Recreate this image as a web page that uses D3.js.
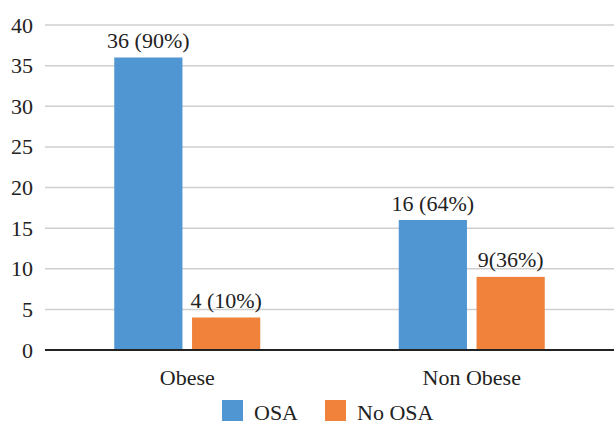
<!DOCTYPE html>
<html><head><meta charset="utf-8">
<script src="https://cdn.jsdelivr.net/npm/d3@7"></script>
<style>
body{margin:0;background:#fff;}
svg{display:block;}
</style>
</head><body>
<svg id="c" width="614" height="424"></svg>
<script>
const categories = ["Obese", "Non Obese"];
const seriesNames = ["OSA", "No OSA"];
const osaValues = [36, 16];
const noOsaValues = [4, 9];
const osaLabels = ["36 (90%)", "16 (64%)"];
const noOsaLabels = ["4 (10%)", "9(36%)"];
const yTicks = [0, 5, 10, 15, 20, 25, 30, 35, 40];
const colors = ["#5096D2", "#F0823C"];

const FONT = "'Liberation Serif', 'Times New Roman', serif";
const svg = d3.select("#c");
const m = {left: 45, right: 614, top: 25, bottom: 350};
const x = d3.scaleBand().domain(categories).range([m.left, m.right]).paddingInner(0).paddingOuter(0);
const xs = d3.scaleBand().domain(seriesNames).range([0, 146]).paddingInner(18/146);
const y = d3.scaleLinear().domain([0, 40]).range([m.bottom, m.top]);

function txt(sel) {
  return sel.attr("font-size", 22).attr("fill", "#222")
    .attr("font-family", FONT)
    .style("font-family", FONT, "important");
}

// gridlines
svg.append("g").selectAll("line").data(yTicks.filter(d => d > 0)).join("line")
  .attr("x1", m.left).attr("x2", m.right)
  .attr("y1", d => y(d)).attr("y2", d => y(d))
  .attr("stroke", "#cfcfcf").attr("stroke-width", 1.5);

// y tick labels
txt(svg.append("g").selectAll("text").data(yTicks).join("text")
  .attr("x", 33).attr("y", d => y(d) + 7.5)
  .attr("text-anchor", "end"))
  .text(d => d);

const rows = categories.map((c, i) => [
  {cat: c, s: seriesNames[0], v: osaValues[i], lab: osaLabels[i], col: colors[0]},
  {cat: c, s: seriesNames[1], v: noOsaValues[i], lab: noOsaLabels[i], col: colors[1]}
]).flat();

const off = (x.bandwidth() - 146) / 2;
const g = svg.append("g");
g.selectAll("rect").data(rows).join("rect")
  .attr("x", d => x(d.cat) + off + xs(d.s))
  .attr("y", d => y(d.v))
  .attr("width", xs.bandwidth())
  .attr("height", d => y(0) - y(d.v))
  .attr("fill", d => d.col);

txt(g.selectAll("text").data(rows).join("text")
  .attr("x", d => x(d.cat) + off + xs(d.s) + xs.bandwidth() / 2)
  .attr("y", d => y(d.v) - 9.5)
  .attr("text-anchor", "middle"))
  .text(d => d.lab);

// x axis line
svg.append("line").attr("x1", m.left).attr("x2", m.right)
  .attr("y1", y(0)).attr("y2", y(0)).attr("stroke", "#222").attr("stroke-width", 2);

// category labels
txt(svg.append("g").selectAll("text").data(categories).join("text")
  .attr("x", d => x(d) + x.bandwidth() / 2).attr("y", 385)
  .attr("text-anchor", "middle"))
  .text(d => d);

// legend
const legX = [222, 325];
const leg = svg.append("g").selectAll("g").data(seriesNames).join("g")
  .attr("transform", (d, i) => `translate(${legX[i]},400)`);
leg.append("rect").attr("width", 21).attr("height", 21).attr("fill", (d, i) => colors[i]);
txt(leg.append("text").attr("x", 32).attr("y", 20)).text(d => d);
</script>
</body></html>
